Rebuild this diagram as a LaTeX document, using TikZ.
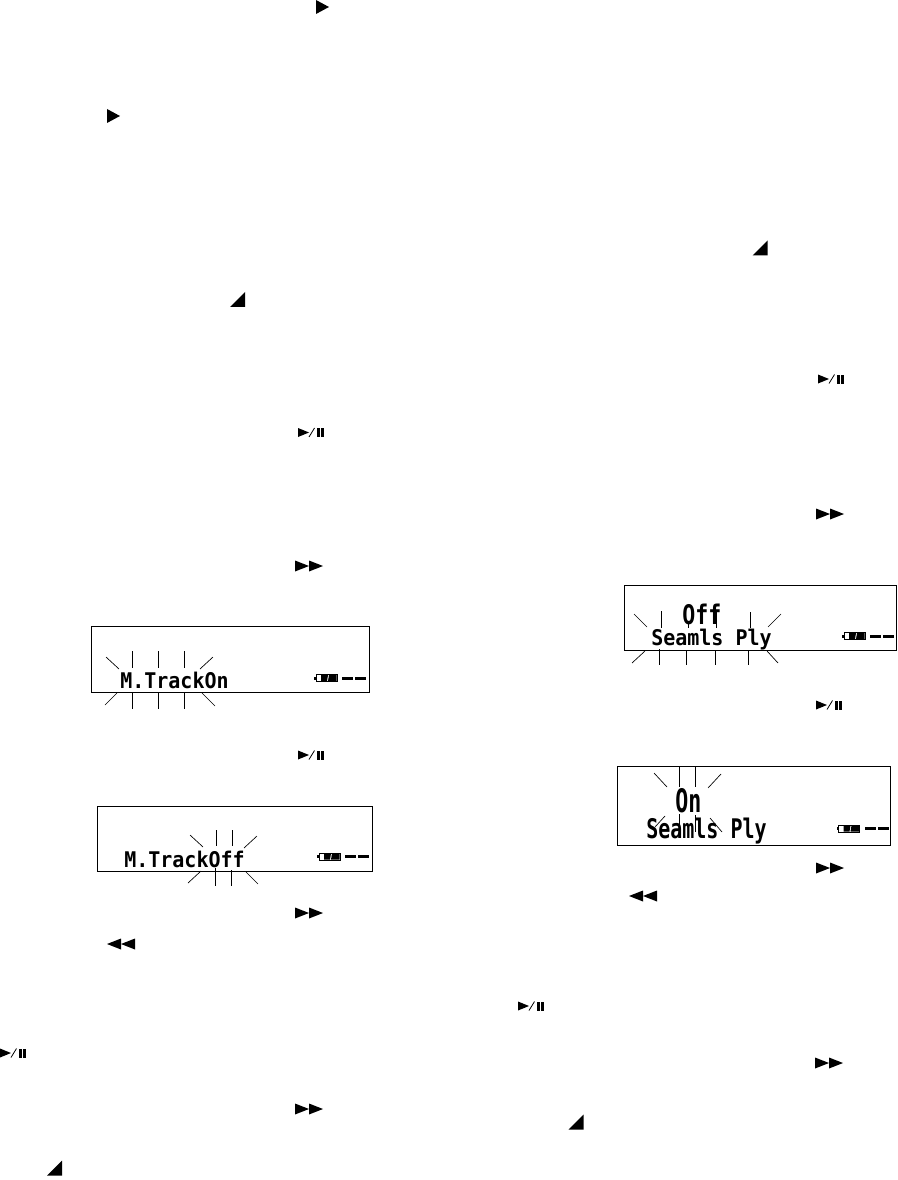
\documentclass[tikz,border=0pt]{standalone}
\usepackage{fontspec}
\setmonofont{DejaVu Sans Mono}
\usetikzlibrary{positioning}

\begin{document}
\begin{tikzpicture}[x=0.75pt, y=-0.75pt,
    frame/.style={draw=black, line width=0.7pt},
    ray/.style={draw=black, line width=0.5pt},
    lcdtext/.style={inner sep=0pt, anchor=base west, transform shape, yscale=1.08, font=\ttfamily\bfseries\fontsize{15}{15}\selectfont},
    tallsmall/.style={lcdtext, yscale=1.25},
    tallmid/.style={lcdtext, xscale=1.08, yscale=1.25},
    tallbig/.style={lcdtext, xscale=1.08, yscale=1.5},
    playicon/.pic={\fill[black] (-6,-7) -- (7,0) -- (-6,7) -- cycle;},
    wedgeicon/.pic={\fill[black] (-7.5,7.5) -- (7.5,-7.5) -- (7.5,7.5) -- cycle;},
    ffwd/.pic={\fill[black] (-14,-5.5) -- (0,0) -- (-14,5.5) -- cycle;
        \fill[black] (0,-5.5) -- (14,0) -- (0,5.5) -- cycle;},
    rewind/.pic={\fill[black] (14,-5.5) -- (0,0) -- (14,5.5) -- cycle;
        \fill[black] (0,-5.5) -- (-14,0) -- (0,5.5) -- cycle;},
    playpause/.pic={\fill[black] (-13,-4.5) -- (-2,0) -- (-13,4.5) -- cycle;
        \draw[black, line width=0.6pt] (-2,4.5) -- (3.5,-4.5);
        \fill[black] (6,-4.5) rectangle (8.5,4.5);
        \fill[black] (10,-4.5) rectangle (13,4.5);},
    battery/.pic={\draw[black, line width=0.55pt] (-10,-3.5) -- (11,-3.5) -- (11,3.5) -- (-10,3.5) -- (-10,-3.5);
        \fill[black] (-12,-1.5) rectangle (-10,1.5);
        \fill[black] (-5,-3) -- (2,-3) -- (1,3) -- (-5,3) -- cycle;
        \fill[black] (3,-3) -- (10.5,-3) -- (10.5,3) -- (2,3) -- cycle;},
    dashes/.pic={\fill[black] (-12,-1.5) rectangle (-1,1.5);
        \fill[black] (1,-1.5) rectangle (12,1.5);}
]
    \useasboundingbox (0,0) rectangle (897,1180);
    \fill[white] (0,0) rectangle (897,1180);

    % Icons left column
    \pic at (322,7) {playicon};
    \pic at (113,116) {playicon};
    \pic at (237.5,299.5) {wedgeicon};
    \pic at (311,432.5) {playpause};
    \pic at (309,566) {ffwd};
    \pic at (311,755) {playpause};
    \pic at (309,913) {ffwd};
    \pic at (121,944) {rewind};
    \pic at (13,1053) {playpause};
    \pic at (309,1109) {ffwd};
    \pic at (54.5,1168) {wedgeicon};

    % Icons right column
    \pic at (760,248) {wedgeicon};
    \pic at (831,379) {playpause};
    \pic at (830,514) {ffwd};
    \pic at (829,705) {playpause};
    \pic at (830,868) {ffwd};
    \pic at (643,896) {rewind};
    \pic at (531,1006) {playpause};
    \pic at (829,1063) {ffwd};
    \pic at (576,1122) {wedgeicon};

    % Display 1 - M.TrackOn
    \draw[frame] (91,626) rectangle (369,692);
    \node[lcdtext] (trackon) at (120,688) {M.TrackOn};
    \pic at (326,678) {battery};
    \pic at (354,678) {dashes};
    \draw[ray] (106,657) -- (119,669);
    \draw[ray] (132,651) -- (132,668);
    \draw[ray] (158,651) -- (158,668);
    \draw[ray] (184,651) -- (184,668);
    \draw[ray] (213,657) -- (200,669);
    \draw[ray] (117,693) -- (105,705);
    \draw[ray] (132,692) -- (132,709);
    \draw[ray] (158,692) -- (158,709);
    \draw[ray] (184,692) -- (184,709);
    \draw[ray] (202,693) -- (215,706);

    % Display 2 - M.TrackOff
    \draw[frame] (97,806) rectangle (372,871);
    \node[lcdtext] (trackoff) at (124,867) {M.TrackOff};
    \pic at (329,856.5) {battery};
    \pic at (356.5,856.5) {dashes};
    \draw[ray] (190,835) -- (203,847);
    \draw[ray] (216,830) -- (216,846);
    \draw[ray] (232,830) -- (232,846);
    \draw[ray] (257,836) -- (244,848);
    \draw[ray] (201,871) -- (188,883);
    \draw[ray] (215,868) -- (215,886);
    \draw[ray] (231,870) -- (231,886);
    \draw[ray] (246,872) -- (258,884);

    % Display 3 - Seamless play off
    \draw[frame] (624,585) rectangle (896,650);
    \node[tallmid] (playoff) at (682,624) {Off};
    \node[lcdtext] (seamoff) at (651,645) {Seamls Ply};
    \pic at (854,636) {battery};
    \pic at (882,636) {dashes};
    \draw[ray] (634,614) -- (647,627);
    \draw[ray] (661,611) -- (661,628);
    \draw[ray] (688,622) -- (688,628);
    \draw[ray] (716,612) -- (716,628);
    \draw[ray] (750,612) -- (750,628);
    \draw[ray] (781,614) -- (768,627);
    \draw[ray] (645,651) -- (632,663);
    \draw[ray] (659,649) -- (659,665);
    \draw[ray] (686,650) -- (686,665);
    \draw[ray] (715,650) -- (715,665);
    \draw[ray] (748,650) -- (748,665);
    \draw[ray] (767,651) -- (778,663);

    % Display 4 - Seamless play on
    \draw[frame] (617,766) rectangle (890,845);
    \node[tallbig] (playon) at (675,812) {On};
    \node[tallsmall] (seamon) at (646,838) {Seamls Ply};
    \pic at (848.5,828.5) {battery};
    \pic at (877,828.5) {dashes};
    \draw[ray] (654,773) -- (667,787);
    \draw[ray] (679,767) -- (679,787);
    \draw[ray] (695,767) -- (695,787);
    \draw[ray] (721,774) -- (708,788);
    \draw[ray] (665,816) -- (655,827);
    \draw[ray] (679,814) -- (679,831);
    \draw[ray] (695,815) -- (695,832);
    \draw[ray] (710,818) -- (722,832);
\end{tikzpicture}
\end{document}
